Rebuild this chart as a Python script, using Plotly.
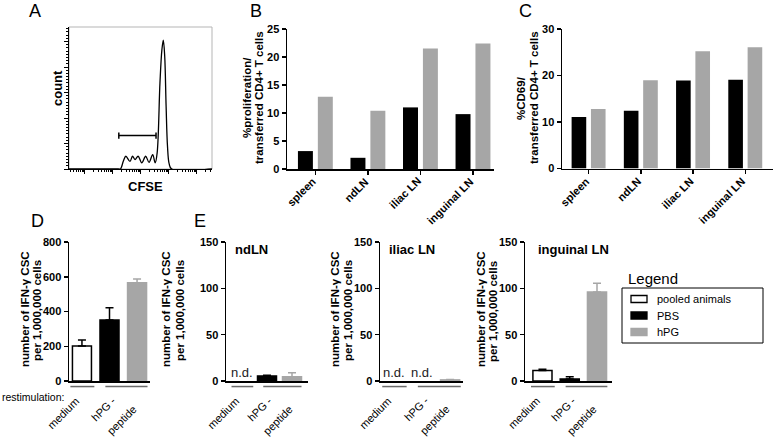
import math
import plotly.graph_objects as go

W, H = 774, 439
FONT = "Liberation Sans, Arial, Helvetica, sans-serif"
BLACK = "#000000"
GRAY = "#a6a6a6"
LINEGRAY = "#6a6a6a"

# ---------------- data ----------------
# Panel A: CFSE histogram (log10 fluorescence vs. events)
cfse_log = [0.43, 2.19, 2.27, 2.37, 2.46, 2.61, 2.70, 2.79, 2.90, 3.03, 3.17, 3.29,
            3.42, 3.51, 3.58, 3.68, 3.75, 3.80, 3.85, 3.90, 3.95, 4.01, 4.10, 5.54]
cfse_count = [0, 0, 0, 30, 50, 30, 50, 37, 50, 24, 50, 26,
              56, 24, 63, 337, 468, 505, 442, 246, 89, 20, 0, 0]
gate_lo, gate_hi, gate_level = 2.21, 3.54, 131

# Panels B, C
regions = ["spleen", "ndLN", "iliac LN", "inguinal LN"]
prolif_PBS = [3.2, 2.0, 11.0, 9.8]
prolif_hPG = [12.9, 10.4, 21.5, 22.4]
cd69_PBS = [11.1, 12.4, 18.9, 19.1]
cd69_hPG = [12.8, 19.0, 25.2, 26.1]

# Panel D
groups = ["pooled animals", "PBS", "hPG"]
restim_ticks = ["medium", "hPG -", "peptide"]
D_values = [201, 351, 565]
D_errors = [35, 70, 22]

# Panel E
E_panels = ["ndLN", "iliac LN", "inguinal LN"]
E_pooled = [None, None, 11.2]
E_pooled_err = [None, None, 1.4]
E_PBS = [5.5, None, 2.2]
E_PBS_err = [0.8, None, 2.3]
E_hPG = [4.6, 1.2, 96]
E_hPG_err = [4.2, 0.4, 9.6]

# ---------------- styling ----------------
group_fill = ["white", BLACK, GRAY]
group_line = [BLACK, BLACK, GRAY]


def xd(a, b):
    return [a / W, b / W]


def yd(top, bottom):
    return [1 - bottom / H, 1 - top / H]


def px_x(p):
    return p / W


def px_y(p):
    return 1 - p / H


def yax(dom, rng, dtick, anchor):
    return dict(domain=yd(*dom), range=rng, dtick=dtick, anchor=anchor, automargin=False,
                showline=True, linecolor=BLACK, linewidth=1.5,
                ticks="outside", ticklen=4, tickwidth=1.5, tickcolor=BLACK,
                showgrid=False, zeroline=False,
                tickfont=dict(family=FONT, size=11, color=BLACK, weight="bold"))


def xcat(dom, rng, anchor):
    return dict(domain=xd(*dom), range=rng, anchor=anchor, automargin=False,
                showline=True, linecolor=BLACK, linewidth=1.5,
                ticks="outside", ticklen=4, tickwidth=1.5, tickcolor=BLACK,
                showgrid=False, zeroline=False, showticklabels=False)


def xrestim(dom, rng, anchor):
    return dict(domain=xd(*dom), range=rng, anchor=anchor, automargin=False,
                showline=True, linecolor=BLACK, linewidth=1.5,
                ticks="", showgrid=False, zeroline=False, showticklabels=False)


def rot_label(text, x, xa, ya, xshift, yshift, bold):
    return dict(x=x, y=0, xref=xa, yref=f"{ya} domain", text=text, textangle=-45,
                showarrow=False, xanchor="right", yanchor="top", borderpad=0,
                xshift=xshift, yshift=yshift,
                font=dict(family=FONT, size=11, color=BLACK,
                          weight="bold" if bold else "normal"))


fig = go.Figure()

# ---------- Panel A ----------
fig.add_trace(go.Scatter(x=cfse_log, y=cfse_count, mode="lines",
                         line=dict(color=BLACK, width=1.3, shape="spline", smoothing=1.0),
                         xaxis="x", yaxis="y", showlegend=False, hoverinfo="skip"))
cap = 12
fig.add_trace(go.Scatter(
    x=[gate_lo, gate_lo, None, gate_lo, gate_hi, None, gate_hi, gate_hi],
    y=[gate_level - cap, gate_level + cap, None, gate_level, gate_level, None,
       gate_level - cap, gate_level + cap],
    mode="lines", line=dict(color=BLACK, width=1.5),
    xaxis="x", yaxis="y", showlegend=False, hoverinfo="skip"))

# ---------- Panels B and C ----------
fig.add_trace(go.Bar(x=regions, y=prolif_PBS, marker=dict(color=BLACK, line=dict(width=0)),
                     width=0.285, offset=-0.332, xaxis="x2", yaxis="y2", showlegend=False))
fig.add_trace(go.Bar(x=regions, y=prolif_hPG, marker=dict(color=GRAY, line=dict(width=0)),
                     width=0.285, offset=0.047, xaxis="x2", yaxis="y2", showlegend=False))
fig.add_trace(go.Bar(x=regions, y=cd69_PBS, marker=dict(color=BLACK, line=dict(width=0)),
                     width=0.28, offset=-0.326, xaxis="x3", yaxis="y3", showlegend=False))
fig.add_trace(go.Bar(x=regions, y=cd69_hPG, marker=dict(color=GRAY, line=dict(width=0)),
                     width=0.28, offset=0.044, xaxis="x3", yaxis="y3", showlegend=False))

annotations = []
for xa, ya in [("x2", "y2"), ("x3", "y3")]:
    for i, r in enumerate(regions):
        annotations.append(rot_label(r, i, xa, ya, 4, -5, True))


def err(arr, color):
    return dict(type="data", array=arr, arrayminus=[0] * len(arr), symmetric=False,
                color=color, thickness=1.5, width=4, visible=True)


# ---------- Panel D ----------
for i, g in enumerate(groups):
    fig.add_trace(go.Bar(x=[i], y=[D_values[i]], name=g, width=0.69,
                         marker=dict(color=group_fill[i],
                                     line=dict(color=group_line[i], width=1.5)),
                         error_y=err([D_errors[i]], group_line[i]),
                         xaxis="x4", yaxis="y4", showlegend=False))

# ---------- Panel E ----------
E_vals = [E_pooled, E_PBS, E_hPG]
E_errs = [E_pooled_err, E_PBS_err, E_hPG_err]
E_axes = [("x5", "y5", 0.76), ("x6", "y6", 0.68), ("x7", "y7", 0.70)]
for j, panel in enumerate(E_panels):
    xa, ya, bw = E_axes[j]
    for i, g in enumerate(groups):
        v = E_vals[i][j]
        if v is None:
            annotations.append(dict(x=i, y=0, xref=xa, yref=ya, text="n.d.",
                                    showarrow=False, xanchor="center", yanchor="bottom",
                                    yshift=-1,
                                    font=dict(family=FONT, size=13, color="#222222")))
            continue
        fig.add_trace(go.Bar(x=[i], y=[v], width=bw, name=g,
                             marker=dict(color=group_fill[i],
                                         line=dict(color=group_line[i], width=1.5)),
                             error_y=err([E_errs[i][j]], group_line[i]),
                             xaxis=xa, yaxis=ya, showlegend=False))
    annotations.append(dict(x=0.08 if j < 2 else 0.13, y=1.0, xref=f"{xa} domain",
                            yref=f"{ya} domain", text=f"<b>{panel}</b>", showarrow=False,
                            xanchor="left", yanchor="top", yshift=2,
                            font=dict(family=FONT, size=13, color=BLACK)))

# restimulation labels (medium under first bar, hPG-peptide under the pair)
for xa, ya in [("x4", "y4"), ("x5", "y5"), ("x6", "y6"), ("x7", "y7")]:
    annotations.append(rot_label(restim_ticks[0], 0, xa, ya, 1, -13, False))
    annotations.append(rot_label(restim_ticks[1], 1.5, xa, ya, -4, -12, False))
    annotations.append(rot_label(restim_ticks[2], 1.5, xa, ya, 17, -21, False))

# ---------- layout ----------
minor_x = [d + math.log10(k) for d in range(0, 6) for k in range(2, 10)]
layout = dict(
    width=W, height=H, margin=dict(l=0, r=0, t=0, b=0, pad=0, autoexpand=False),
    paper_bgcolor="white", plot_bgcolor="white", barmode="overlay", showlegend=False,
    font=dict(family=FONT, color=BLACK),
    xaxis=dict(domain=xd(69, 212), range=[0.43, 5.54], anchor="y", automargin=False,
               showline=True, linecolor=BLACK, linewidth=1.2, showgrid=False,
               zeroline=False, ticks="outside", ticklen=4, tickcolor=BLACK,
               tickvals=[1, 2, 3, 4, 5], showticklabels=False,
               minor=dict(tickvals=minor_x, ticks="outside", ticklen=2, tickcolor=BLACK)),
    yaxis=dict(domain=yd(27, 169), range=[0, 557], anchor="x", dtick=100, automargin=False,
               showline=True, linecolor=BLACK, linewidth=1.2, showgrid=False,
               zeroline=False, ticks="outside", ticklen=4, tickcolor=BLACK,
               showticklabels=False,
               minor=dict(dtick=12.5, ticks="outside", ticklen=2, tickcolor=BLACK)),
    xaxis2=xcat((287, 494), [-0.54, 3.40], "y2"),
    yaxis2=yax((29, 169), [0, 25], 5, "x2"),
    xaxis3=xcat((562, 773), [-0.51, 3.53], "y3"),
    yaxis3=yax((29, 168.5), [0, 30], 10, "x3"),
    xaxis4=xrestim((69, 150), [-0.47, 2.47], "y4"),
    yaxis4=yax((242, 381), [0, 800], 200, "x4"),
    xaxis5=xrestim((226, 308), [-0.64, 2.64], "y5"),
    yaxis5=yax((242, 381), [0, 150], 50, "x5"),
    xaxis6=xrestim((380, 463), [-0.5, 2.46], "y6"),
    yaxis6=yax((242, 381), [0, 150], 50, "x6"),
    xaxis7=xrestim((525, 612), [-0.64, 2.55], "y7"),
    yaxis7=yax((242, 381), [0, 150], 50, "x7"),
)
fig.update_layout(**layout)

shapes = [dict(type="rect", xref="x domain", yref="y domain", x0=0, x1=1, y0=0, y1=1,
               line=dict(color="#b5b5b5", width=1), layer="below")]
# group underlines below restimulation axes
for xa, ya in [("x4", "y4"), ("x5", "y5"), ("x6", "y6"), ("x7", "y7")]:
    for x0, x1 in [(-0.42, 0.45), (0.85, 2.38)]:
        shapes.append(dict(type="line", xref=xa, yref=f"{ya} domain", x0=x0, x1=x1,
                           y0=-0.04, y1=-0.04, line=dict(color=LINEGRAY, width=1.5)))

# legend (drawn box with swatches)
shapes.append(dict(type="rect", xref="paper", yref="paper",
                   x0=px_x(622), x1=px_x(763), y0=px_y(343), y1=px_y(288),
                   line=dict(color=BLACK, width=1), fillcolor="white"))
for i, g in enumerate(groups):
    yc = 299 + i * 16.5
    shapes.append(dict(type="rect", xref="paper", yref="paper",
                       x0=px_x(631), x1=px_x(647), y0=px_y(yc + 3.5), y1=px_y(yc - 3.5),
                       line=dict(color=group_line[i], width=1.3), fillcolor=group_fill[i]))
    annotations.append(dict(x=px_x(655), y=px_y(yc), xref="paper", yref="paper", text=g,
                            showarrow=False, xanchor="left", yanchor="middle",
                            font=dict(family=FONT, size=11, color=BLACK)))
fig.update_layout(shapes=shapes)

# panel letters
for letter, x, y in [("A", 27, 11), ("B", 248, 11), ("C", 517, 11), ("D", 29, 221), ("E", 192, 221)]:
    annotations.append(dict(x=px_x(x), y=px_y(y), xref="paper", yref="paper", text=letter,
                            showarrow=False, xanchor="left", yanchor="middle",
                            font=dict(family=FONT, size=18, color=BLACK)))

# axis titles (one annotation per line)
ifn1, ifn2 = "number of IFN-γ CSC", "per 1,000,000 cells"
titles = [("count", 57, 88, 13),
          ("%proliferation/", 247, 98, 11.5), ("transferred CD4+ T cells", 259, 98, 11.5),
          ("%CD69/", 521, 98, 11.5), ("transferred CD4+ T cells", 534, 98, 11.5),
          (ifn1, 25, 309, 11.5), (ifn2, 37, 311, 11.5),
          (ifn1, 166, 309, 11.5), (ifn2, 180, 311, 11.5),
          (ifn1, 335, 309, 11.5), (ifn2, 348, 311, 11.5),
          (ifn1, 481, 309, 11.5), (ifn2, 493, 311, 11.5)]
for text, x, y, sz in titles:
    annotations.append(dict(x=px_x(x), y=px_y(y), xref="paper", yref="paper",
                            text=f"<b>{text}</b>", textangle=-90, showarrow=False,
                            xanchor="center", yanchor="middle",
                            font=dict(family=FONT, size=sz, color=BLACK)))
annotations.append(dict(x=px_x(145), y=px_y(186), xref="paper", yref="paper",
                        text="<b>CFSE</b>", showarrow=False, xanchor="center", yanchor="middle",
                        font=dict(family=FONT, size=13, color=BLACK)))
annotations.append(dict(x=0, y=px_y(397), xref="paper", yref="paper",
                        text="restimulation:", showarrow=False, xanchor="left", yanchor="middle",
                        font=dict(family=FONT, size=10.5, color=BLACK)))
annotations.append(dict(x=px_x(626), y=px_y(278), xref="paper", yref="paper",
                        text="Legend", showarrow=False, xanchor="left", yanchor="middle",
                        font=dict(family=FONT, size=15, color=BLACK)))
fig.update_layout(annotations=annotations)

fig.write_html("out.html", post_script="document.body.style.margin='0px';",
               config={"displayModeBar": False, "staticPlot": True})
